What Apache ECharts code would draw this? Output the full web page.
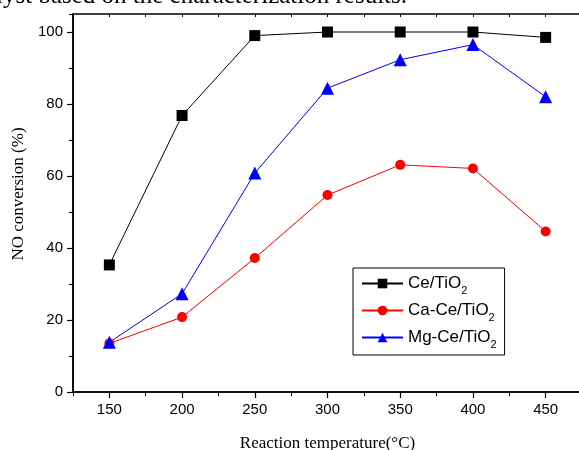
<!DOCTYPE html>
<html>
<head>
<meta charset="utf-8">
<script src="https://cdn.jsdelivr.net/npm/echarts@6/dist/echarts.min.js"></script>
<style>
  html, body { margin: 0; padding: 0; background: #fff; }
  #chart { width: 579px; height: 450px; }
</style>
</head>
<body>
<div id="chart"></div>
<script>
// reaction temperature (C)
const temps = [150, 200, 250, 300, 350, 400, 450];
const ceTiO2 = [35.3, 76.8, 99.0, 100.0, 100.0, 100.0, 98.5];
const caCeTiO2 = [13.5, 20.8, 37.2, 54.7, 63.1, 62.1, 44.6];
const mgCeTiO2 = [13.8, 27.3, 60.8, 84.4, 92.3, 96.5, 82.0];
const xTicks = [150, 200, 250, 300, 350, 400, 450];
const yTicks = [0, 20, 40, 60, 80, 100];
const seriesNames = ['Ce/TiO{s|2}', 'Ca-Ce/TiO{s|2}', 'Mg-Ce/TiO{s|2}'];

const pair = vals => temps.map((t, i) => [t, vals[i]]);

const mychart = echarts.init(document.getElementById('chart'));
const sansFont = '"Liberation Sans", Arial, sans-serif';
const serifFont = '"Liberation Serif", "Times New Roman", serif';

const option = {
  animation: false,
  backgroundColor: '#fff',
  graphic: [{
    type: 'text',
    x: 407,
    y: 9,
    style: {
      text: 'catalyst based on the characterization results.',
      font: '25px ' + serifFont,
      fill: '#000',
      align: 'right',
      verticalAlign: 'bottom'
    }
  }],
  grid: {
    left: 73, top: 14, width: 509, height: 378,
    outerBoundsMode: 'none', containLabel: false,
    show: true, borderColor: '#000', borderWidth: 1.5
  },
  legend: {
    orient: 'vertical',
    left: 353,
    top: 268,
    padding: [7, 8, 5, 8],
    itemWidth: 41,
    itemHeight: 12,
    itemGap: 6,
    borderColor: '#000',
    borderWidth: 1,
    textStyle: {
      fontFamily: sansFont,
      fontSize: 17,
      color: '#000',
      rich: { s: { fontSize: 11, padding: [14, 0, 0, 0], fontFamily: sansFont } }
    },
    data: seriesNames
  },
  xAxis: [{
    type: 'value', min: 125, max: 475, position: 'bottom',
    name: 'Reaction temperature(°C)', nameLocation: 'middle', nameGap: 43,
    nameTextStyle: { fontFamily: serifFont, fontSize: 17, color: '#000' },
    axisLine: { lineStyle: { color: '#000', width: 1.5 } },
    axisTick: { customValues: xTicks, length: 6, lineStyle: { color: '#000', width: 1.2 } },
    axisLabel: { customValues: xTicks, fontFamily: sansFont, fontSize: 15, color: '#000', margin: 10 },
    splitLine: { show: false }
  }, {
    type: 'value', min: 125, max: 475, interval: 25, position: 'bottom',
    axisLine: { show: false },
    axisTick: { length: 4, lineStyle: { color: '#000', width: 1 } },
    axisLabel: { show: false },
    splitLine: { show: false }
  }, {
    type: 'value', min: 125, max: 475, interval: 25, position: 'top',
    axisLine: { show: false },
    axisTick: { inside: true, length: 3, lineStyle: { color: '#000', width: 1 } },
    axisLabel: { show: false },
    splitLine: { show: false }
  }],
  yAxis: [{
    type: 'value', min: 0, max: 105,
    name: 'NO conversion (%)', nameLocation: 'middle', nameGap: 38, nameRotate: 90,
    nameTextStyle: { fontFamily: serifFont, fontSize: 17, color: '#000', padding: [0, 0, 0, 18] },
    axisLine: { show: true, lineStyle: { color: '#000', width: 1.5 } },
    axisTick: { show: true, customValues: yTicks, length: 6, lineStyle: { color: '#000', width: 1.2 } },
    axisLabel: { customValues: yTicks, fontFamily: sansFont, fontSize: 15, color: '#000', margin: 10 },
    splitLine: { show: false }
  }, {
    type: 'value', min: 0, max: 105, interval: 10, position: 'left',
    axisLine: { show: false },
    axisTick: { show: true, length: 4, lineStyle: { color: '#000', width: 1 } },
    axisLabel: { show: false },
    splitLine: { show: false }
  }],
  series: [{
    name: seriesNames[0], type: 'line', data: pair(ceTiO2),
    symbol: 'rect', symbolSize: 11,
    itemStyle: { color: '#000' }, lineStyle: { color: '#000', width: 1 }
  }, {
    name: seriesNames[1], type: 'line', data: pair(caCeTiO2),
    symbol: 'circle', symbolSize: 10,
    itemStyle: { color: '#ff0000' }, lineStyle: { color: '#ff0000', width: 1 }
  }, {
    name: seriesNames[2], type: 'line', data: pair(mgCeTiO2),
    symbol: 'triangle', symbolSize: 13,
    itemStyle: { color: '#0000ff' }, lineStyle: { color: '#0000ff', width: 1 }
  }]
};

mychart.setOption(option);
</script>
</body>
</html>
